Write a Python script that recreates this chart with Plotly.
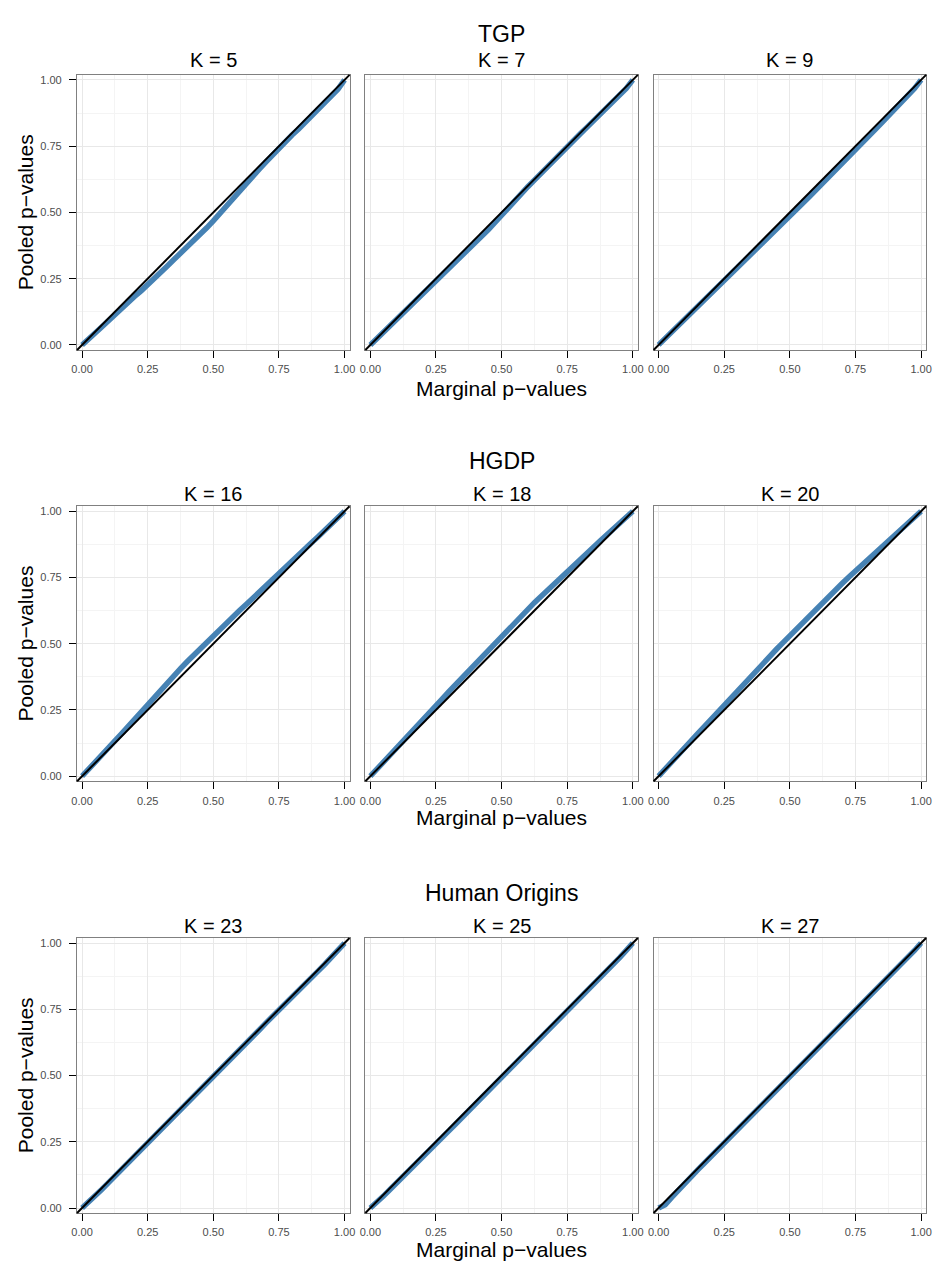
import plotly.graph_objects as go

W, H = 938, 1262

# ---------------- data ----------------
marginal = [0.000, 0.025, 0.050, 0.075, 0.100, 0.125, 0.150, 0.175, 0.200, 0.225,
            0.250, 0.275, 0.300, 0.325, 0.350, 0.375, 0.400, 0.425, 0.450, 0.475,
            0.500, 0.525, 0.550, 0.575, 0.600, 0.625, 0.650, 0.675, 0.700, 0.725,
            0.750, 0.775, 0.800, 0.825, 0.850, 0.875, 0.900, 0.925, 0.950, 0.975,
            1.000]

datasets = ["TGP", "HGDP", "Human Origins"]
k_values = [[5, 7, 9], [16, 18, 20], [23, 25, 27]]

tgp_k5 = [0, .020, .045, .068, .092, .115, .138, .158, .183, .204, .226, .248,
          .272, .298, .322, .345, .370, .393, .418, .442, .468, .497, .525, .552,
          .580, .607, .635, .663, .690, .717, .742, .768, .792, .815, .840, .862,
          .885, .908, .935, .965, 1.0]
tgp_k7 = [0, .024, .048, .073, .097, .122, .147, .171, .195, .218, .240, .262,
          .285, .308, .333, .357, .382, .408, .435, .462, .490, .518, .545, .571,
          .597, .622, .648, .673, .698, .725, .750, .773, .797, .821, .845, .868,
          .890, .914, .940, .968, 1.0]
tgp_k9 = [0, .024, .048, .072, .097, .121, .146, .170, .194, .218, .242, .266,
          .290, .313, .337, .361, .385, .410, .435, .460, .485, .510, .535, .560,
          .586, .612, .637, .663, .688, .713, .738, .763, .788, .813, .838, .863,
          .888, .914, .940, .968, 1.0]

hgdp_k16 = [0, .028, .055, .082, .108, .133, .160, .188, .215, .242, .270, .298,
            .325, .351, .378, .406, .432, .457, .480, .503, .525, .550, .575, .600,
            .625, .648, .672, .697, .720, .742, .765, .788, .812, .836, .860, .882,
            .905, .928, .952, .976, 1.0]
hgdp_k18 = [0, .026, .053, .079, .105, .131, .158, .184, .210, .237, .265, .293,
            .320, .346, .372, .398, .425, .452, .478, .504, .530, .555, .580, .606,
            .632, .655, .678, .702, .726, .751, .775, .797, .820, .842, .865, .888,
            .910, .932, .955, .978, 1.0]
hgdp_k20 = [0, .028, .055, .082, .108, .135, .162, .188, .215, .243, .270, .296,
            .322, .348, .375, .402, .428, .454, .480, .505, .530, .555, .580, .608,
            .635, .657, .680, .704, .728, .752, .775, .798, .822, .845, .868, .890,
            .912, .934, .956, .978, 1.0]

ho_k23 = [0, .022, .045, .070, .095, .120, .145, .170, .195, .217, .240, .265,
          .290, .316, .342, .368, .395, .420, .445, .468, .493, .519, .545, .570,
          .595, .621, .646, .672, .698, .722, .745, .770, .795, .820, .845, .870,
          .895, .920, .946, .972, 1.0]
ho_k25 = [0, .020, .045, .070, .094, .119, .144, .169, .194, .219, .244, .268,
          .292, .317, .342, .366, .390, .414, .438, .463, .488, .513, .538, .563,
          .588, .613, .638, .663, .688, .714, .740, .765, .790, .816, .842, .867,
          .892, .918, .945, .972, 1.0]
ho_k27 = [0, .012, .040, .068, .094, .120, .145, .170, .195, .220, .244, .268,
          .292, .317, .342, .367, .392, .416, .440, .466, .492, .516, .540, .566,
          .593, .619, .645, .670, .695, .720, .745, .771, .797, .821, .846, .870,
          .895, .920, .946, .972, 1.0]

pooled = [[tgp_k5, tgp_k7, tgp_k9],
          [hgdp_k16, hgdp_k18, hgdp_k20],
          [ho_k23, ho_k25, ho_k27]]

tick_vals = [0, 0.25, 0.5, 0.75, 1.0]
tick_text = ["0.00", "0.25", "0.50", "0.75", "1.00"]
minor_vals = [0.125, 0.375, 0.625, 0.875]
axis_range = [-0.019, 1.019]

# ---------------- layout geometry (pixels) ----------------
col_px = [(72, 348), (364, 640), (656, 932)]
row_px = [(74, 349.5), (506, 781.5), (938.5, 1214)]
title_y = [33, 461, 893]
strip_y = [59, 494, 926]
xtitle_y = [388, 818, 1250]

def px_x(p):
    return p / W

def px_y(p):
    return 1 - p / H

FONT = "Liberation Sans, Arial, Helvetica, sans-serif"
BLUE = "#4682B4"

fig = go.Figure()
layout = dict(width=W, height=H, margin=dict(l=0, r=0, t=0, b=0),
              paper_bgcolor="white", plot_bgcolor="white", showlegend=False,
              font=dict(family=FONT))
annotations = []
shapes = []

for r in range(3):
    for c in range(3):
        i = r * 3 + c + 1
        xa = "x" if i == 1 else f"x{i}"
        ya = "y" if i == 1 else f"y{i}"
        fig.add_trace(go.Scatter(x=marginal, y=pooled[r][c], mode="lines",
                                 line=dict(color=BLUE, width=5.5),
                                 xaxis=xa, yaxis=ya, hoverinfo="skip"))
        common = dict(range=axis_range, showline=True, linecolor="#808080",
                      linewidth=1.3, mirror=True, zeroline=False,
                      showgrid=True, gridcolor="#e8e8e8", gridwidth=1.1,
                      minor=dict(tickvals=minor_vals, showgrid=True,
                                 gridcolor="#f4f4f4", gridwidth=0.6, ticks=""),
                      tickvals=tick_vals, ticktext=tick_text,
                      tickfont=dict(size=11, color="#4d4d4d", family=FONT))
        xdom = [px_x(col_px[c][0]), px_x(col_px[c][1])]
        ydom = [px_y(row_px[r][1]), px_y(row_px[r][0])]
        layout[f"xaxis{i}"] = dict(domain=xdom, anchor=ya, ticks="outside",
                                   ticklen=7, tickwidth=1.4, tickcolor="black",
                                   showticklabels=True, ticklabelstandoff=2,
                                   **common)
        if c == 0:
            layout[f"yaxis{i}"] = dict(domain=ydom, anchor=xa, ticks="outside",
                                       ticklen=7, tickwidth=1.4, tickcolor="black",
                                       showticklabels=True, ticklabelstandoff=5,
                                       **common)
        else:
            layout[f"yaxis{i}"] = dict(domain=ydom, anchor=xa, ticks="",
                                       showticklabels=False, **common)
        # identity line y = x across the whole panel (equal axis ranges)
        shapes.append(dict(type="line", xref=f"{xa} domain", yref=f"{ya} domain",
                           x0=0, y0=0, x1=1, y1=1,
                           line=dict(color="black", width=2), layer="above"))
        annotations.append(dict(text=f"K = {k_values[r][c]}", showarrow=False,
                                xref="paper", yref="paper",
                                x=px_x((col_px[c][0] + col_px[c][1]) / 2),
                                y=px_y(strip_y[r]), xanchor="center",
                                yanchor="middle",
                                font=dict(size=20, color="black", family=FONT)))
    annotations.append(dict(text=datasets[r], showarrow=False, xref="paper",
                            yref="paper", x=px_x(502), y=px_y(title_y[r]),
                            xanchor="center", yanchor="middle",
                            font=dict(size=23, color="black", family=FONT)))
    annotations.append(dict(text="Marginal p\u2212values", showarrow=False,
                            xref="paper", yref="paper", x=px_x(502),
                            y=px_y(xtitle_y[r]), xanchor="center",
                            yanchor="middle",
                            font=dict(size=21, color="black", family=FONT)))
    annotations.append(dict(text="Pooled p\u2212values", showarrow=False,
                            xref="paper", yref="paper", x=px_x(20),
                            y=px_y((row_px[r][0] + row_px[r][1]) / 2),
                            xanchor="center", yanchor="middle", textangle=-90,
                            font=dict(size=21, color="black", family=FONT)))

layout["annotations"] = annotations
layout["shapes"] = shapes
fig.update_layout(**layout)
fig.write_html("out.html")
